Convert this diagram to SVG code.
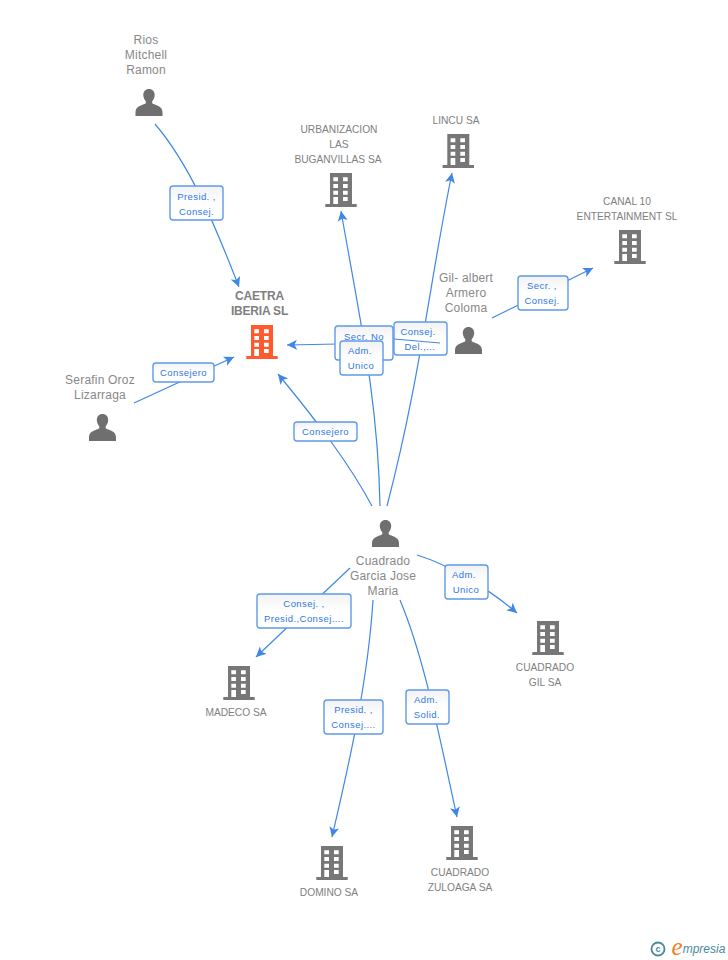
<svg xmlns="http://www.w3.org/2000/svg" width="728" height="960" viewBox="0 0 728 960">
<style>
text{font-family:"Liberation Sans",Arial,sans-serif;text-anchor:middle}
.p{font-size:12px;fill:#888;letter-spacing:.2px}
.c{font-size:10.2px;fill:#808080}
.t{font-size:12px;font-weight:bold;fill:#808080;letter-spacing:-.2px}
.l{font-size:9.5px;fill:#2f78e4;letter-spacing:.42px}
.e{fill:none;stroke:#3f87e6;stroke-width:1.200;marker-end:url(#a)}
.n{fill:none;stroke:#3f87e6;stroke-width:1.200}
.b{fill:url(#g);stroke:#5f9ae8;stroke-width:1.400}
</style>
<defs>
<linearGradient id="g" x1="0" y1="0" x2="0" y2="1"><stop offset="0" stop-color="#f2f2f2"/><stop offset=".5" stop-color="#fff"/></linearGradient>
<marker id="a" markerUnits="userSpaceOnUse" markerWidth="12" markerHeight="12" refX="10" refY="5" orient="auto"><path d="M0 0L10 5L0 10L2.500 5Z" fill="#3f87e6"/></marker>
<path id="bd" fill-rule="evenodd" d="M-11 0H11V31H15.700V34H-15.700V31H-11ZM-7.700 4.300V8.300H-3V4.300ZM2 4.300V8.300H6.700V4.300ZM-7.700 11V15H-3V11ZM2 11V15H6.700V11ZM-7.700 17.700V21.700H-3V17.700ZM2 17.700V21.700H6.700V17.700ZM-7.700 24V31H-3V24ZM2 24V28H6.700V24Z"/>
<path id="pr" d="M0 0C3.500 0 5.700 2.600 5.700 6C5.700 8.600 4.500 10.800 3.200 12.300V14.300C6 16.200 13.500 17 13.500 23V27H-13.500V23C-13.500 17 -6 16.200 -3.200 14.300V12.300C-4.500 10.800 -5.700 8.600 -5.700 6C-5.700 2.600 -3.500 0 0 0Z"/>
</defs>
<g id="connectors">
<path class="e" d="M155 124C190 165 215 225 239 287"/>
<path class="e" d="M134 403L234 357"/>
<path class="e" d="M372 506C350 465 320 425 278 374"/>
<path class="e" d="M440 342L287 345"/>
<path class="e" d="M380 506C378 400 360 320 341 211"/>
<path class="e" d="M387 506C420 380 430 280 452 173"/>
<path class="e" d="M492 318L593 268"/>
<path class="e" d="M350 568L256 657"/>
<path class="e" d="M373 600C368 680 350 760 332 837"/>
<path class="e" d="M400 600C425 660 440 740 457 817"/>
<path class="e" d="M417 555C450 565 490 590 517 613"/>
</g>
<g id="labels">
<g><rect class="b" x="170" y="186" width="53" height="34" rx="3"/><text class="l" x="196.500" y="200">Presid. ,</text><text class="l" x="196.500" y="215">Consej.</text></g>
<g><rect class="b" x="153" y="363" width="61" height="19" rx="3"/><text class="l" x="183.500" y="376">Consejero</text></g>
<g><rect class="b" x="294" y="422" width="63" height="19" rx="3"/><text class="l" x="325.500" y="435">Consejero</text></g>
<g><rect class="b" x="335" y="326" width="58" height="34" rx="3"/><text class="l" x="364" y="340">Secr. No</text></g>
<g><rect class="b" x="394" y="322" width="53" height="33" rx="3"/><text class="l" x="418" y="335">Consej.</text><text class="l" x="420" y="350">Del.,...</text></g>
<path class="n" d="M394 339L440 343"/>
<g><rect class="b" x="340" y="341" width="43" height="34" rx="3"/><text class="l" x="360" y="354">Adm.</text><text class="l" x="361" y="369">Unico</text></g>
<g><rect class="b" x="518" y="276" width="50" height="34" rx="3"/><text class="l" x="542" y="289">Secr. ,</text><text class="l" x="542" y="304">Consej.</text></g>
<g><rect class="b" x="257" y="594" width="94" height="34" rx="3"/><text class="l" x="304" y="607">Consej. ,</text><text class="l" x="304" y="622">Presid.,Consej....</text></g>
<g><rect class="b" x="445" y="565" width="43" height="34" rx="3"/><text class="l" x="464" y="578">Adm.</text><text class="l" x="466" y="593">Unico</text></g>
<g><rect class="b" x="324" y="700" width="59" height="34" rx="3"/><text class="l" x="353.500" y="713">Presid. ,</text><text class="l" x="353.500" y="728">Consej....</text></g>
<g><rect class="b" x="406" y="690" width="43" height="34" rx="3"/><text class="l" x="426" y="703">Adm.</text><text class="l" x="427" y="718">Solid.</text></g>
</g>
<g id="n-rios"><use href="#pr" x="149" y="89" fill="#6f6f6f"/><text class="p" x="146" y="44">Rios</text><text class="p" x="146" y="59">Mitchell</text><text class="p" x="146" y="74">Ramon</text></g>
<g id="n-urb"><use href="#bd" x="341" y="173" fill="#777"/><text class="c" x="339" y="133">URBANIZACION</text><text class="c" x="339" y="148">LAS</text><text class="c" x="338" y="163">BUGANVILLAS SA</text></g>
<g id="n-lincu"><use href="#bd" x="458.300" y="134" fill="#777"/><text class="c" x="456" y="124">LINCU SA</text></g>
<g id="n-canal"><use href="#bd" x="630" y="230" fill="#777"/><text class="c" x="627" y="205">CANAL 10</text><text class="c" x="627" y="220">ENTERTAINMENT SL</text></g>
<g id="n-gil"><use href="#pr" x="468.500" y="327" fill="#6f6f6f"/><text class="p" x="466" y="282">Gil- albert</text><text class="p" x="466" y="297">Armero</text><text class="p" x="466" y="312">Coloma</text></g>
<g id="n-caetra"><use href="#bd" x="262" y="325" fill="#ff5a2e"/><text class="t" x="259.500" y="300">CAETRA</text><text class="t" x="259.500" y="315">IBERIA SL</text></g>
<g id="n-serafin"><use href="#pr" x="102.500" y="414" fill="#6f6f6f"/><text class="p" x="100" y="384">Serafin Oroz</text><text class="p" x="100" y="399">Lizarraga</text></g>
<g id="n-cuadrado"><use href="#pr" x="385.500" y="520" fill="#6f6f6f"/><text class="p" x="383" y="565">Cuadrado</text><text class="p" x="383" y="580">Garcia Jose</text><text class="p" x="383" y="595">Maria</text></g>
<g id="n-madeco"><use href="#bd" x="239" y="666" fill="#777"/><text class="c" x="236" y="716">MADECO SA</text></g>
<g id="n-gilsa"><use href="#bd" x="548" y="621" fill="#777"/><text class="c" x="545" y="671">CUADRADO</text><text class="c" x="545" y="686">GIL SA</text></g>
<g id="n-domino"><use href="#bd" x="332" y="846" fill="#777"/><text class="c" x="329" y="896">DOMINO SA</text></g>
<g id="n-zuloaga"><use href="#bd" x="462" y="826" fill="#777"/><text class="c" x="460" y="876">CUADRADO</text><text class="c" x="460" y="891">ZULOAGA SA</text></g>
<g id="logo"><circle cx="658" cy="949" r="6.500" fill="none" stroke="#4a8a9c" stroke-width="1.800"/><text x="658" y="952" style="font-size:9px;font-weight:bold;fill:#4a8a9c">c</text><text x="677" y="955" style="font-family:'Liberation Serif',serif;font-size:25px;font-style:italic;fill:#f08020">e</text><text x="704" y="953" style="font-size:12px;font-style:italic;fill:#4a8a9c">mpresia</text></g>
</svg>
